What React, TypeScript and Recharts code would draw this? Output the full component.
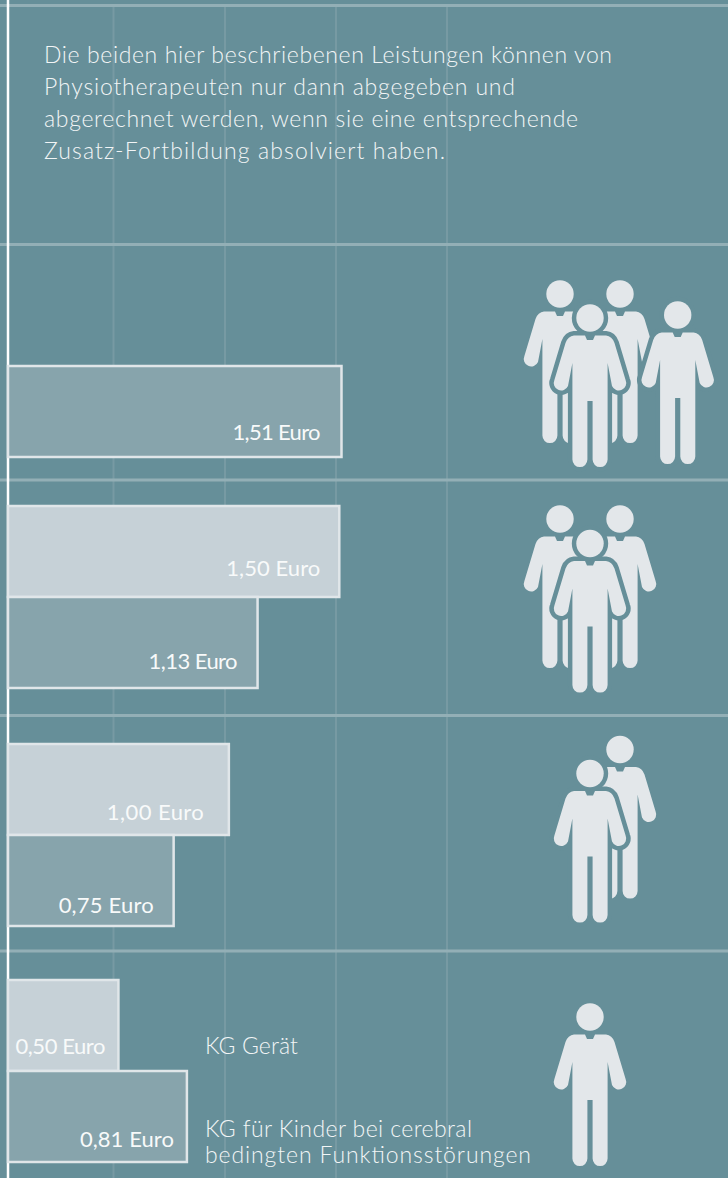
import React from "react";
import { BarChart, Bar, XAxis, YAxis, CartesianGrid, LabelList } from "recharts";

// Fee per treatment unit in Euro, one row per group size
const rows = ["vier", "drei", "zwei", "eins"];
const kgGeraet = [null, 1.5, 1.0, 0.5];
const kgKinder = [1.51, 1.13, 0.75, 0.81];
const introLines = [
  "Die beiden hier beschriebenen Leistungen können von",
  "Physiotherapeuten nur dann abgegeben und",
  "abgerechnet werden, wenn sie eine entsprechende",
  "Zusatz-Fortbildung absolviert haben.",
];
const legendGeraet = ["KG Gerät"];
const legendKinder = ["KG für Kinder bei cerebral", "bedingten Funktionsstörungen"];

const tableData = rows.map((row, i) => ({ row, geraet: kgGeraet[i], kinder: kgKinder[i] }));

// Vertical centre of each row panel on the page
const rowCentres = [366, 597, 835, 1071];
const PANEL_H = 300;
const X_MAX = 3.26;

// Set widths of the text lines
const introWidths = [568, 471, 534, 401];
const legendGeraetWidths = [93];
const legendKinderWidths = [267, 326];

// Inset of each value label from the bar's lower right corner, and its set width
const labelInset: Record<string, [number, number, number]> = {
  "1.51": [21, 17, 88],
  "1.5": [19, 21, 94],
  "1.13": [20, 19, 89],
  "1": [25, 15, 97],
  "0.75": [20, 13, 95],
  "0.5": [13, 17, 90],
  "0.81": [13, 15, 94],
};

const BG = "#668f99";
const ICON = "#e3e7ea";
const FONT = "Lato, sans-serif";
const euro = (v: number) => `${v.toFixed(2).replace(".", ",")} Euro`;

// Standing figure, origin at the centre of the head
const BODY =
  "M-5 17.5 L-3 22 L3 22 L5 17.5 L16 17.5 Q22 18 24.5 25 L35.6 62 A7.2 7.2 0 0 1 22 68 L17.6 45 L17.6 141.6 A7.4 7.4 0 0 1 2.6 141.6 L2.6 83 L-2.6 83 L-2.6 141.6 A7.4 7.4 0 0 1 -17.6 141.6 L-17.6 45 L-22 68 A7.2 7.2 0 0 1 -35.6 62 L-24.5 25 Q-22 18 -16 17.5 Z";

function Person({ x, y, halo }: { x: number; y: number; halo?: boolean }) {
  return (
    <g transform={`translate(${x} ${y})`}>
      {halo && <circle r={13.7} fill={BG} stroke={BG} strokeWidth={9} />}
      {halo && <path d={BODY} fill={BG} stroke={BG} strokeWidth={9} strokeLinejoin="round" />}
      <circle r={13.7} fill={ICON} />
      <path d={BODY} fill={ICON} />
    </g>
  );
}

function BarValue(props: any) {
  const { x, y, width, height, value } = props;
  if (value == null) return null;
  const [dx, dy, w] = labelInset[String(value)];
  return (
    <text
      x={x + width - dx - w}
      y={y + height - dy}
      textLength={w}
      fill="#f8fafa"
      fontFamily={FONT}
      fontSize={22}
      fontWeight={400}
    >
      {euro(value)}
    </text>
  );
}

const textStyle = { fontFamily: FONT, fontSize: 23, fontWeight: 300, fill: "#f2f5f6" };

function RowPanel({ index }: { index: number }) {
  return (
    <BarChart
      width={728}
      height={PANEL_H}
      layout="vertical"
      data={[tableData[index]]}
      barSize={91}
      barGap={0}
      barCategoryGap={0}
      margin={{ top: 0, right: 0, bottom: 0, left: 8 }}
      style={{ position: "absolute", left: 0, top: rowCentres[index] - PANEL_H / 2 }}
    >
      <XAxis type="number" hide domain={[0, X_MAX]} />
      <YAxis type="category" dataKey="row" hide />
      <Bar dataKey="geraet" fill="#c6d1d7" stroke="#e0e6e9" strokeWidth={2.5} isAnimationActive={false}>
        <LabelList dataKey="geraet" content={BarValue} />
      </Bar>
      <Bar dataKey="kinder" fill="#87a4ac" stroke="#e0e6e9" strokeWidth={2.5} isAnimationActive={false}>
        <LabelList dataKey="kinder" content={BarValue} />
      </Bar>
    </BarChart>
  );
}

export default function App() {
  return (
    <div style={{ position: "absolute", left: 0, top: 0, width: 728, height: 1178, overflow: "hidden", background: BG }}>
      {/* Background rules shared by all rows */}
      <BarChart width={728} height={1178} layout="vertical" data={tableData} margin={{ top: 0, right: 0, bottom: 0, left: 8 }}>
        <CartesianGrid x={0} y={7} width={728} height={1171} horizontal={false} verticalPoints={[113.5, 225, 336, 447]} stroke="#779aa3" strokeWidth={2} />
        <CartesianGrid x={0} y={0} width={728} height={1178} vertical={false} horizontalPoints={[5.5, 244.5, 480, 715.5, 951]} stroke="#93afb6" strokeWidth={3} />
        <CartesianGrid x={0} y={0} width={728} height={1178} horizontal={false} verticalPoints={[8]} stroke="#ffffff" strokeWidth={2.5} />
        <XAxis type="number" hide domain={[0, X_MAX]} />
        <YAxis type="category" dataKey="row" hide />
      </BarChart>
      {rows.map((row, i) => (
        <RowPanel key={row} index={i} />
      ))}
      <svg width={728} height={1178} style={{ position: "absolute", left: 0, top: 0 }}>
        {introLines.map((line, i) => (
          <text key={line} x={44} y={62.5 + i * 32.2} textLength={introWidths[i]} style={textStyle}>{line}</text>
        ))}
        {legendGeraet.map((line, i) => (
          <text key={line} x={205} y={1054} textLength={legendGeraetWidths[i]} style={textStyle}>{line}</text>
        ))}
        {legendKinder.map((line, i) => (
          <text key={line} x={205} y={1137 + i * 26} textLength={legendKinderWidths[i]} style={textStyle}>{line}</text>
        ))}
        <Person x={560} y={294} />
        <Person x={620} y={294} />
        <Person x={677.7} y={315} halo />
        <Person x={590} y={318} halo />
        <Person x={560} y={519} />
        <Person x={620} y={519} />
        <Person x={590} y={543.5} halo />
        <Person x={620} y={749.5} />
        <Person x={590} y={773.5} halo />
        <Person x={590} y={1017} />
      </svg>
    </div>
  );
}
